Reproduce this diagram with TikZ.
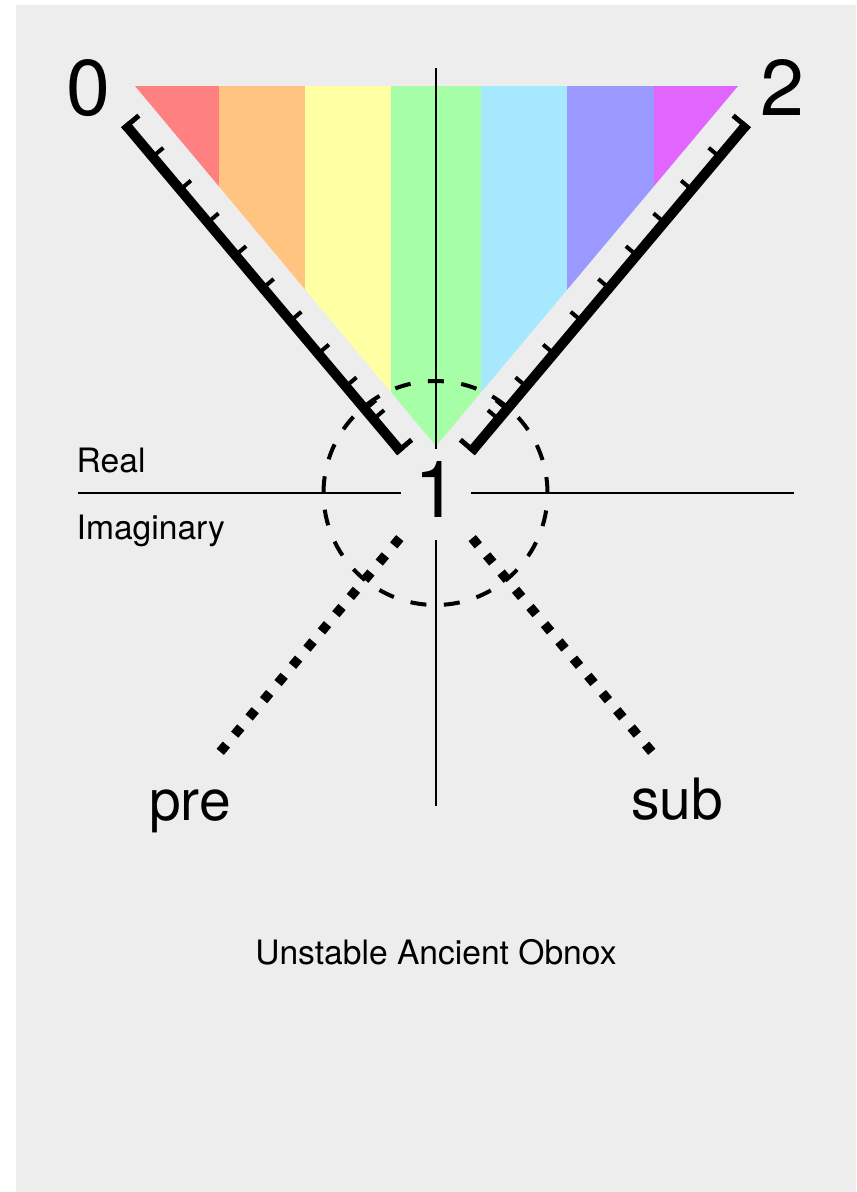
\documentclass[tikz,border=0pt]{standalone}
\usepackage{fontspec}
\setmainfont{TeX Gyre Heros}
\usetikzlibrary{calc}
\definecolor{bg}{RGB}{237,237,237}
\definecolor{cred}{RGB}{255,128,128}
\definecolor{corange}{RGB}{255,197,128}
\definecolor{cyellow}{RGB}{255,255,163}
\definecolor{cgreen}{RGB}{166,255,166}
\definecolor{ccyan}{RGB}{166,233,255}
\definecolor{cblue}{RGB}{153,153,255}
\definecolor{cmagenta}{RGB}{224,102,255}
\begin{document}
\begin{tikzpicture}[x=1pt,y=-1pt,
  ruler/.style={line width=10pt, line cap=butt},
  rtick/.style={line width=4pt, line cap=butt},
  rcap/.style={line width=5pt, line cap=butt},
  axis/.style={line width=2pt},
  ring/.style={line width=4pt, dash pattern=on 16pt off 17.51pt},
  dotline/.style={line width=9.5pt, dash pattern=on 9.5pt off 12.975pt, line cap=butt},
  big/.style={font=\fontsize{79}{79}\selectfont, inner sep=0pt},
  lab/.style={font=\fontsize{57}{57}\selectfont, inner sep=0pt},
  small/.style={font=\fontsize{33.6}{33.6}\selectfont, inner sep=0pt}]
\useasboundingbox (0,0) rectangle (857,1192);
\fill[bg] (16,5) rectangle (855.5,1192);

% rainbow triangle
\coordinate (T0) at (135,86);
\coordinate (T2) at (738,86);
\coordinate (T1) at (436,446);
\begin{scope}
  \clip (T0) -- (T2) -- (T1) -- cycle;
  \fill[cred]     (135,80) rectangle (219,450);
  \fill[corange]  (219,80) rectangle (305,450);
  \fill[cyellow]  (305,80) rectangle (391,450);
  \fill[cgreen]   (391,80) rectangle (481,450);
  \fill[ccyan]    (481,80) rectangle (567,450);
  \fill[cblue]    (567,80) rectangle (654,450);
  \fill[cmagenta] (654,80) rectangle (740,450);
\end{scope}

% axes and centre label
\coordinate (vtop) at (436,68);
\coordinate (vbot) at (436,806);
\coordinate (hl) at (78,493);
\coordinate (hr) at (794,493);
\node[big, anchor=base, text height=68pt, text depth=23pt, minimum width=69pt] (one) at (436,517) {1};
\draw[axis] (vtop) -- (vtop |- one.north);
\draw[axis] (vbot |- one.south) -- (vbot);
\draw[axis] (hl) -- (hl -| one.west);
\draw[axis] (hr -| one.east) -- (hr);

% rulers
\coordinate (LA) at (125,124);
\coordinate (LB) at (401,452);
\coordinate (RA) at (747,124);
\coordinate (RB) at (471,452);
\draw[ruler] (LA) -- (LB);
\draw[ruler] (RA) -- (RB);
\foreach \f in {0.1,0.2,0.3,0.4,0.5,0.6,0.7,0.8,0.87,0.9} {
  \draw[rtick] ($(LA)!\f!(LB)$) -- ($(LA)!\f!(LB)!14pt!90:(LB)$);
  \draw[rtick] ($(RA)!\f!(RB)$) -- ($(RA)!\f!(RB)!14pt!-90:(RB)$);
}
\draw[rcap] ($(LA)!2.5pt!(LB)!5pt!-90:(LB)$) -- ($(LA)!2.5pt!(LB)!16pt!90:(LB)$);
\draw[rcap] ($(LB)!2.5pt!(LA)!5pt!90:(LA)$) -- ($(LB)!2.5pt!(LA)!16pt!-90:(LA)$);
\draw[rcap] ($(RA)!2.5pt!(RB)!5pt!90:(RB)$) -- ($(RA)!2.5pt!(RB)!16pt!-90:(RB)$);
\draw[rcap] ($(RB)!2.5pt!(RA)!5pt!-90:(RA)$) -- ($(RB)!2.5pt!(RA)!16pt!90:(RA)$);

% dashed circle
\coordinate (C) at (435.5,493);
\draw[ring] ($(C)+(112,0)$) arc[start angle=0, end angle=360, radius=112pt];

% dotted lines
\coordinate (DL0) at (399.8,538.1);
\coordinate (DL1) at (220.2,751.9);
\coordinate (DR0) at (472.2,538.1);
\coordinate (DR1) at (651.8,751.9);
\draw[dotline] (DL0) -- (DL1);
\draw[dotline] (DR0) -- (DR1);

% labels
\node[big, anchor=base] (zero) at (88,115) {0};
\node[big, anchor=base] (two) at (782,115) {2};
\node[small, anchor=base west] (real) at (76.5,472.7) {Real};
\node[small, anchor=base west] (imag) at (76.5,539.3) {Imaginary};
\node[lab, anchor=base] (pre) at (190,820) {pre};
\node[lab, anchor=base] (sub) at (677,819.3) {sub};
\node[small, anchor=base] (title) at (436,964.3) {Unstable Ancient Obnox};
\end{tikzpicture}
\end{document}
